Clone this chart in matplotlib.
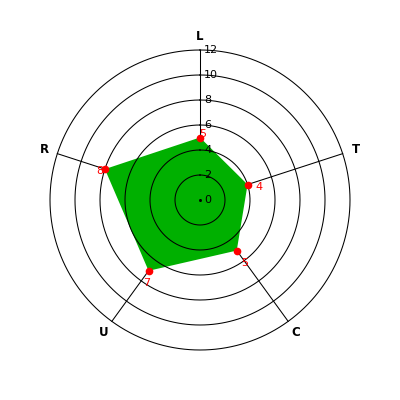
import numpy as np
import matplotlib
matplotlib.use("Agg")
import matplotlib.pyplot as plt

categories = ["L", "T", "C", "U", "R"]
values = [5, 4, 5, 7, 8]
rings = [2, 4, 6, 8, 10, 12]
ring_labels = ["0", "2", "4", "6", "8", "10", "12"]

n = len(categories)
angles = np.linspace(0, 2 * np.pi, n, endpoint=False)
rmax = rings[-1]
rlim = rmax * 1.025  # a bit of room so the outer ring is not clipped

# axes sized so that r = 12 sits 150 px from the centre
half = 150 * rlim / rmax / 400
fig = plt.figure(figsize=(4, 4), dpi=100)
ax = fig.add_axes([0.5 - half, 0.5 - half, 2 * half, 2 * half], projection="polar")
ax.set_theta_zero_location("N")
ax.set_theta_direction(-1)
ax.set_ylim(0, rlim)
ax.axis("off")

lw = 0.75
# spokes go under the fill
for a in angles:
    ax.plot([a, a], [0, rmax], color="black", lw=lw, zorder=1)

ax.fill(angles, values, color="#00B000", lw=0, zorder=2)

# rings drawn over the fill
full = np.linspace(0, 2 * np.pi, 361)
for r in rings:
    ax.plot(full, np.full_like(full, r), color="black", lw=lw, zorder=3)
ax.plot([0], [0], marker="s", ms=1, color="black", zorder=3)

# ring value labels along the top spoke
for i, lab in enumerate(ring_labels):
    ax.annotate(lab, xy=(0, i * 2), xytext=(4, 0), textcoords="offset pixels",
                ha="left", va="center", fontsize=8, color="black", zorder=4,
                annotation_clip=False)

# data points and their labels
ax.plot(angles, values, "o", color="red", ms=4.5, zorder=5, clip_on=False)
for a, v in zip(angles, values):
    dx = 9 * np.sin(a) + 3
    dy = 9 * np.cos(a) - 5
    ax.annotate(str(v), xy=(a, v), xytext=(dx, dy), textcoords="offset pixels",
                ha="center", va="center", fontsize=8, color="red", zorder=6)

# category labels outside the outer ring
for a, c in zip(angles, categories):
    ax.text(a, 13.1, c, ha="center", va="center", fontsize=8.5,
            fontweight="bold", color="black", clip_on=False)

fig.savefig("out.png", dpi=100, facecolor="white")
